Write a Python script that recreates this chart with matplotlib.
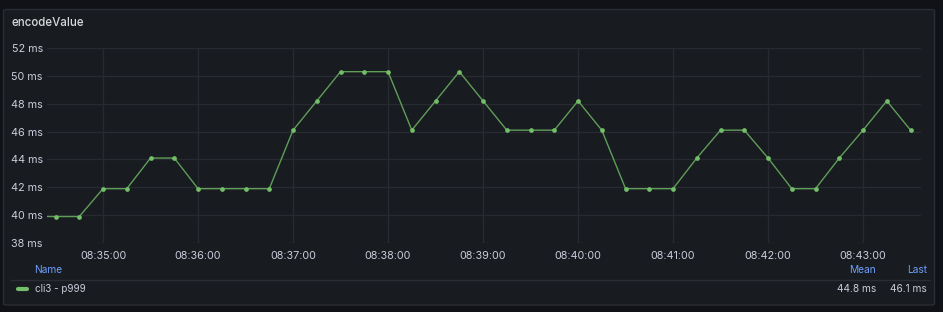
import datetime as dt
import matplotlib
matplotlib.use("Agg")
import matplotlib.pyplot as plt
import matplotlib.dates as mdates
from matplotlib.patches import FancyBboxPatch
from matplotlib.lines import Line2D

plt.rcParams['font.family'] = ['Inter', 'DejaVu Sans']

# ---- data ----
title = "encodeValue"
series_name = "cli3 - p999"
start = dt.datetime(2024, 1, 1, 8, 34, 15)
step_s = 15
p999_ms = [39.9, 39.9, 39.9, 41.9, 41.9, 44.1, 44.1, 41.9, 41.9, 41.9, 41.9,
           46.1, 48.2, 50.3, 50.3, 50.3, 46.1, 48.2, 50.3, 48.2, 46.1, 46.1,
           46.1, 48.2, 46.1, 41.9, 41.9, 41.9, 44.1, 46.1, 46.1, 44.1, 41.9,
           41.9, 44.1, 46.1, 48.2, 46.1]
stat_names = ["Mean", "Last"]
stat_values = ["44.8 ms", "46.1 ms"]
y_ticks = [38, 40, 42, 44, 46, 48, 50, 52]

times = [start + dt.timedelta(seconds=step_s * i) for i in range(len(p999_ms))]

# ---- colours ----
BG = '#111217'
PANEL = '#181b1f'
BORDER = '#2a2d33'
GRID = '#272a30'
TEXT = '#ccccdc'
BLUE = '#6e9fff'
GREEN = '#73bf69'
LINE = '#5f9d58'

W, H = 943, 312
fig = plt.figure(figsize=(W / 100, H / 100), dpi=100, facecolor=BG)

def fx(px):
    return px / W

def fy(py):
    return 1 - py / H

panel = FancyBboxPatch((fx(3.5), fy(305)), fx(931), (305 - 9.5) / H,
                       boxstyle="round,pad=0,rounding_size=0.004",
                       transform=fig.transFigure, facecolor=PANEL,
                       edgecolor=BORDER, linewidth=1, zorder=-10)
fig.patches.append(panel)

fig.text(fx(11), fy(23), title, color='#d8d9da', fontsize=8.3,
         fontweight='medium', va='center', ha='left')

ax = fig.add_axes([fx(47), fy(243), (921 - 47) / W, (243 - 48) / H])
ax.set_facecolor('none')
ax.plot(times, p999_ms, color=LINE, linewidth=1.0, marker='o',
        markersize=3.4, markeredgewidth=0, markerfacecolor=GREEN)

ax.set_ylim(38, 52)
ax.set_xlim(dt.datetime(2024, 1, 1, 8, 34, 24, 600000),
            dt.datetime(2024, 1, 1, 8, 43, 36, 600000))
ax.set_yticks(y_ticks)
ax.set_yticklabels([f"{v} ms" for v in y_ticks])
ax.xaxis.set_major_locator(mdates.MinuteLocator())
ax.xaxis.set_major_formatter(mdates.DateFormatter('%H:%M:%S'))
ax.grid(True, color=GRID, linewidth=1)
for s in ax.spines.values():
    s.set_visible(False)
ax.tick_params(axis='both', length=0, colors=TEXT, labelsize=7.8)
ax.tick_params(axis='y', pad=3)
ax.tick_params(axis='x', pad=6)

# ---- legend table ----
fig.text(fx(34), fy(270), "Name", color=BLUE, fontsize=7.3, va='center')
fig.add_artist(Line2D([fx(11), fx(930)], [fy(279.5), fy(279.5)],
                      color=BORDER, linewidth=1))
fig.add_artist(Line2D([fx(18), fx(27)], [fy(289), fy(289)], color=GREEN,
                      linewidth=3, solid_capstyle='round'))
fig.text(fx(35), fy(289), series_name, color=TEXT, fontsize=7.1, va='center')
for name, val, xr in zip(stat_names, stat_values, [876, 927]):
    fig.text(fx(xr), fy(270), name, color=BLUE, fontsize=7.3,
             va='center', ha='right')
    fig.text(fx(xr), fy(289), val, color=TEXT, fontsize=7.3,
             va='center', ha='right')

fig.savefig('out.png', dpi=100, facecolor=BG)
